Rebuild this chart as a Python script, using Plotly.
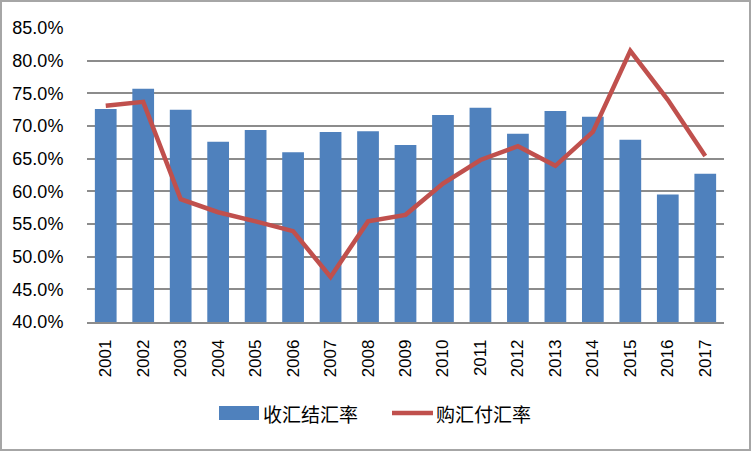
import plotly.graph_objects as go

years = ["2001", "2002", "2003", "2004", "2005", "2006", "2007", "2008", "2009",
         "2010", "2011", "2012", "2013", "2014", "2015", "2016", "2017"]
settle_rate = [0.726, 0.757, 0.725, 0.676, 0.694, 0.660, 0.691, 0.692, 0.671,
               0.717, 0.728, 0.688, 0.723, 0.714, 0.679, 0.595, 0.627]
purchase_rate = [0.731, 0.737, 0.588, 0.568, 0.554, 0.539, 0.469, 0.554, 0.564,
                 0.612, 0.648, 0.669, 0.639, 0.691, 0.815, 0.740, 0.654]
series_names = ["收汇结汇率", "购汇付汇率"]
colors = ["#4F81BD", "#C0504D"]

W, H = 752, 452
ML, MR, MT, MB = 87, 28, 28, 130
pw, ph = W - ML - MR, H - MT - MB


def px(x):
    return (x - ML) / pw


def py(y):
    return (MT + ph - y) / ph


fig = go.Figure()
fig.add_trace(go.Bar(x=years, y=settle_rate, name=series_names[0], showlegend=False,
                     marker=dict(color=colors[0], line=dict(width=0))))
fig.add_trace(go.Scatter(x=years, y=purchase_rate, name=series_names[1], mode="lines",
                         showlegend=False, line=dict(color=colors[1], width=4.5)))

# outer chart border
fig.add_shape(type="rect", xref="paper", yref="paper",
              x0=px(1), x1=px(W - 2), y0=py(H - 2), y1=py(1),
              line=dict(color="#a6a6a6", width=2), fillcolor="rgba(0,0,0,0)", layer="below")

# legend (drawn manually to match the wide swatches)
fig.add_shape(type="rect", xref="paper", yref="paper",
              x0=px(219), x1=px(259), y0=py(420), y1=py(406),
              line=dict(width=0), fillcolor=colors[0])
fig.add_shape(type="line", xref="paper", yref="paper",
              x0=px(392), x1=px(433), y0=py(413), y1=py(413),
              line=dict(color=colors[1], width=4.5))
fig.add_annotation(xref="paper", yref="paper", x=px(261), y=py(413), xanchor="left",
                   yanchor="middle", text=series_names[0], showarrow=False,
                   font=dict(family="Noto Sans CJK SC", size=19, color="#000"))
fig.add_annotation(xref="paper", yref="paper", x=px(434), y=py(413), xanchor="left",
                   yanchor="middle", text=series_names[1], showarrow=False,
                   font=dict(family="Noto Sans CJK SC", size=19, color="#000"))

fig.update_layout(
    width=W, height=H,
    margin=dict(l=ML, r=MR, t=MT, b=MB, pad=0, autoexpand=False),
    paper_bgcolor="white", plot_bgcolor="white",
    font=dict(family="Liberation Sans, Noto Sans CJK SC", size=17, color="#000000"),
    bargap=0.42,
    showlegend=False,
    xaxis=dict(type="category", tickangle=-90, showgrid=False, showline=True,
               linecolor="#8c8c8c", linewidth=1.5, ticks="outside", ticklen=9,
               tickcolor="rgba(0,0,0,0)", zeroline=False, automargin=False,
               tickfont=dict(size=17)),
    yaxis=dict(range=[0.40, 0.85], dtick=0.05, tick0=0.40, tickformat=".1%",
               showgrid=True, gridcolor="#8c8c8c", gridwidth=1.5, zeroline=False,
               showline=False, ticks="outside", ticklen=19, tickcolor="rgba(0,0,0,0)",
               automargin=False, tickfont=dict(size=18)),
)

fig.write_html("out.html", config={"displayModeBar": False},
               post_script="document.body.style.margin='0';document.body.style.overflow='hidden';")
